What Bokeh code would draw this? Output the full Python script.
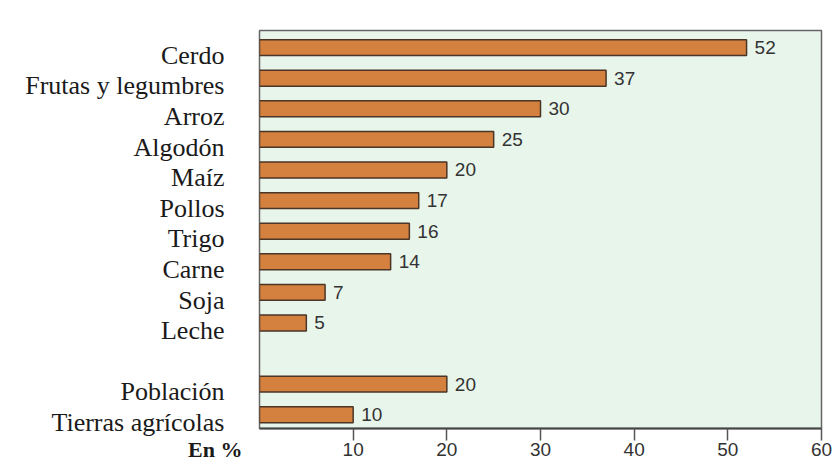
from bokeh.plotting import figure
from bokeh.models import Range1d, FixedTicker, LinearAxis, ColumnDataSource, Label
from bokeh.core.properties import value
from bokeh.embed import file_html
from bokeh.resources import INLINE

categories = ["Cerdo", "Frutas y legumbres", "Arroz", "Algodón", "Maíz", "Pollos",
              "Trigo", "Carne", "Soja", "Leche", "Población", "Tierras agrícolas"]
values = [52, 37, 30, 25, 20, 17, 16, 14, 7, 5, 20, 10]
x_ticks = [10, 20, 30, 40, 50, 60]
group_break = 10  # an empty row separates the last two items

ypos = [i if i < group_break else i + 1 for i in range(len(categories))]
src = ColumnDataSource(dict(y=ypos, v=values, t=[str(v) for v in values]))

W, H = 832, 461
Y0, Y1 = 12.45, -0.56
p = figure(width=W, height=H, output_backend="svg", toolbar_location=None,
           x_range=Range1d(0, 60), y_range=Range1d(Y0, Y1),
           min_border_left=259, min_border_right=11, min_border_top=30, min_border_bottom=33)
p.background_fill_color = "#e8f5eb"
p.border_fill_color = "white"
p.outline_line_color = "#666666"
p.outline_line_width = 1.5
p.grid.visible = False

p.hbar(y="y", right="v", left=0, height=0.52, source=src,
       fill_color="#d4803f", line_color="#4a3526", line_width=1.5)
p.text(x="v", y="y", text="t", source=src, x_offset=8, text_baseline="middle",
       text_font=value("Liberation Sans"), text_font_size="19px", text_color="#333333")

# x axis
xa = p.xaxis[0]
xa.ticker = FixedTicker(ticks=x_ticks)
xa.axis_line_color = "#444444"
xa.axis_line_width = 2
xa.major_tick_line_color = "#555555"
xa.major_tick_line_width = 1.5
xa.major_tick_out = 12
xa.major_tick_in = 0
xa.minor_tick_line_color = None
xa.major_label_text_font = "Liberation Sans"
xa.major_label_text_font_size = "19px"
xa.major_label_text_color = "#333333"
xa.major_label_standoff = 2

# y axis: labels slightly below bar centres
p.yaxis.visible = False
shift = 0.25
p.extra_y_ranges = {"lab": Range1d(Y0 - shift, Y1 - shift)}
ya = LinearAxis(y_range_name="lab", ticker=FixedTicker(ticks=ypos),
                major_label_overrides={y: c for y, c in zip(ypos, categories)})
ya.axis_line_color = None
ya.major_tick_line_color = None
ya.minor_tick_line_color = None
ya.major_label_text_font = "Liberation Serif"
ya.major_label_text_font_size = "26px"
ya.major_label_text_color = "#1a1a1a"
ya.major_label_standoff = 29
p.add_layout(ya, "left")

# unit label of the x axis, placed left of the tick labels
p.add_layout(Label(x=242, y=449, x_units="canvas", y_units="canvas",
                   text="En %", text_align="right", text_baseline="middle",
                   text_font="Liberation Serif", text_font_style="bold",
                   text_font_size="22px", text_color="#1a1a1a"), "above")

open("out.html", "w").write(file_html(p, INLINE))
